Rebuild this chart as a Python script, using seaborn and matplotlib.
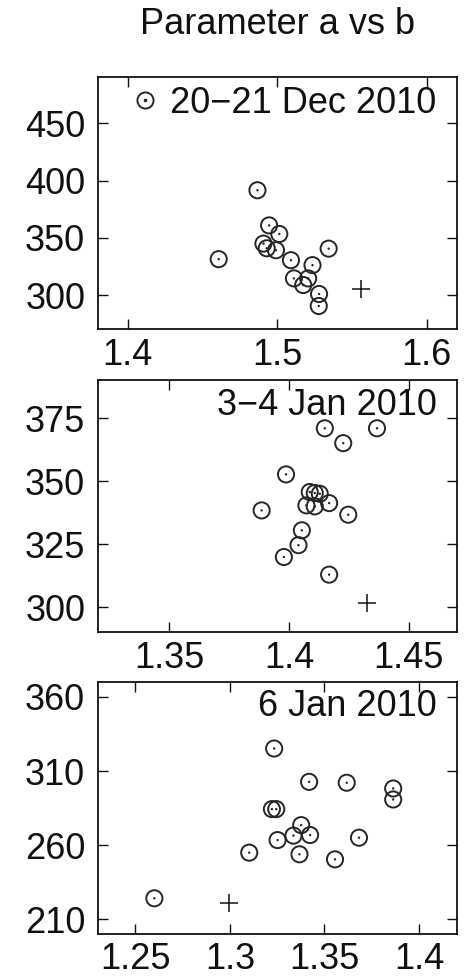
import numpy as np
import pandas as pd
import matplotlib
matplotlib.use("Agg")
import matplotlib.pyplot as plt
from matplotlib.ticker import FormatStrFormatter
from matplotlib.lines import Line2D
import seaborn as sns

# Observations per campaign: parameter a (x) against parameter b (y)
dec_a = [1.4609, 1.4868, 1.4946, 1.5014, 1.4908, 1.4930, 1.4992, 1.5092,
         1.5344, 1.5236, 1.5112, 1.5207, 1.5174, 1.5280, 1.5278]
dec_b = [331.3, 391.5, 360.8, 353.3, 344.9, 340.8, 339.1, 330.4,
         340.5, 326.1, 314.5, 314.5, 308.7, 300.9, 290.4]
dec_ref = (1.5561, 305.2)

jan34_a = [1.4149, 1.4367, 1.4226, 1.3987, 1.3885, 1.4086, 1.4107, 1.4128,
           1.4072, 1.4107, 1.4167, 1.4247, 1.4053, 1.4039, 1.3978, 1.4167]
jan34_b = [371.0, 371.0, 365.1, 352.7, 338.4, 345.7, 345.3, 345.0,
           340.4, 340.0, 341.3, 336.7, 330.5, 324.6, 319.9, 312.9]
jan34_ref = (1.4324, 301.5)

jan6_a = [1.3234, 1.3419, 1.3618, 1.3864, 1.3864, 1.3222, 1.3245, 1.3377,
          1.3336, 1.3424, 1.3252, 1.3683, 1.3102, 1.3368, 1.3556, 1.2600]
jan6_b = [325.2, 302.7, 302.1, 298.2, 290.8, 284.3, 284.3, 273.5,
          266.4, 266.8, 263.4, 265.0, 254.9, 253.8, 250.4, 224.1]
jan6_ref = (1.2993, 221.2)

labels = ["20\u221221 Dec 2010", "3\u22124 Jan 2010", "6 Jan 2010"]
x_ticks = [[1.4, 1.5, 1.6], [1.35, 1.4, 1.45], [1.25, 1.3, 1.35, 1.4]]
y_ticks = [[300, 350, 400, 450], [300, 325, 350, 375], [210, 260, 310, 360]]
x_lims = [(1.38, 1.62), (1.32, 1.47), (1.23, 1.42)]
y_lims = [(270, 490), (290, 390), (200, 370)]

sns.set_style("ticks")
plt.rcParams["font.family"] = ["Liberation Sans", "DejaVu Sans"]
plt.rcParams["font.size"] = 26
plt.rcParams["text.color"] = "#111111"
plt.rcParams["xtick.labelcolor"] = "#111111"
plt.rcParams["ytick.labelcolor"] = "#111111"

FS = 26
fig = plt.figure(figsize=(4.67, 9.77), dpi=100)
left, width = 0.2092, 0.7687
bottoms = [0.6629, 0.3528, 0.0440]
height = 0.2578

panels = [(dec_a, dec_b, dec_ref), (jan34_a, jan34_b, jan34_ref),
          (jan6_a, jan6_b, jan6_ref)]
ring = "#262626"

axes = []
for i, (a, b, ref) in enumerate(panels):
    ax = fig.add_axes([left, bottoms[i], width, height])
    df = pd.DataFrame({"a": a, "b": b})
    sns.scatterplot(data=df, x="a", y="b", ax=ax, marker="o", s=135,
                    facecolor="none", edgecolor=ring, linewidth=1.4)
    sns.scatterplot(data=df, x="a", y="b", ax=ax, marker="o", s=3,
                    color=ring, edgecolor="none", linewidth=0)
    ref_df = pd.DataFrame({"a": [ref[0]], "b": [ref[1]]})
    sns.scatterplot(data=ref_df, x="a", y="b", ax=ax, marker="+", s=150,
                    color="#111111", linewidth=1.1)
    ax.set_xlim(*x_lims[i])
    ax.set_ylim(*y_lims[i])
    ax.set_xticks(x_ticks[i])
    ax.set_yticks(y_ticks[i])
    ax.xaxis.set_major_formatter(FormatStrFormatter("%g"))
    ax.set_xlabel("")
    ax.set_ylabel("")
    ax.tick_params(direction="in", top=True, right=True, length=7,
                   width=1.0, labelsize=FS, pad=6, color="#111111")
    ax.tick_params(axis="y", pad=9)
    for sp in ax.spines.values():
        sp.set_linewidth(1.3)
        sp.set_color("#111111")
    axes.append(ax)

# Campaign labels
handle = Line2D([], [], linestyle="none", marker="o", markersize=11.6,
                markerfacecolor="none", markeredgecolor=ring,
                markeredgewidth=1.4)
dot = Line2D([], [], linestyle="none", marker="o", markersize=1.6,
             color=ring)
axes[0].legend([(handle, dot)], [labels[0]], loc="center right",
               bbox_to_anchor=(0.944, 0.898), frameon=False, borderpad=0,
               borderaxespad=0, handlelength=0.5, handletextpad=0.45,
               fontsize=FS)
axes[1].text(0.944, 0.901, labels[1], transform=axes[1].transAxes,
             ha="right", va="center", fontsize=FS)
axes[2].text(0.944, 0.9045, labels[2], transform=axes[2].transAxes,
             ha="right", va="center", fontsize=FS)

axes[0].set_title("Parameter a vs b", fontsize=FS, pad=31)

fig.savefig("out.png", dpi=100)
